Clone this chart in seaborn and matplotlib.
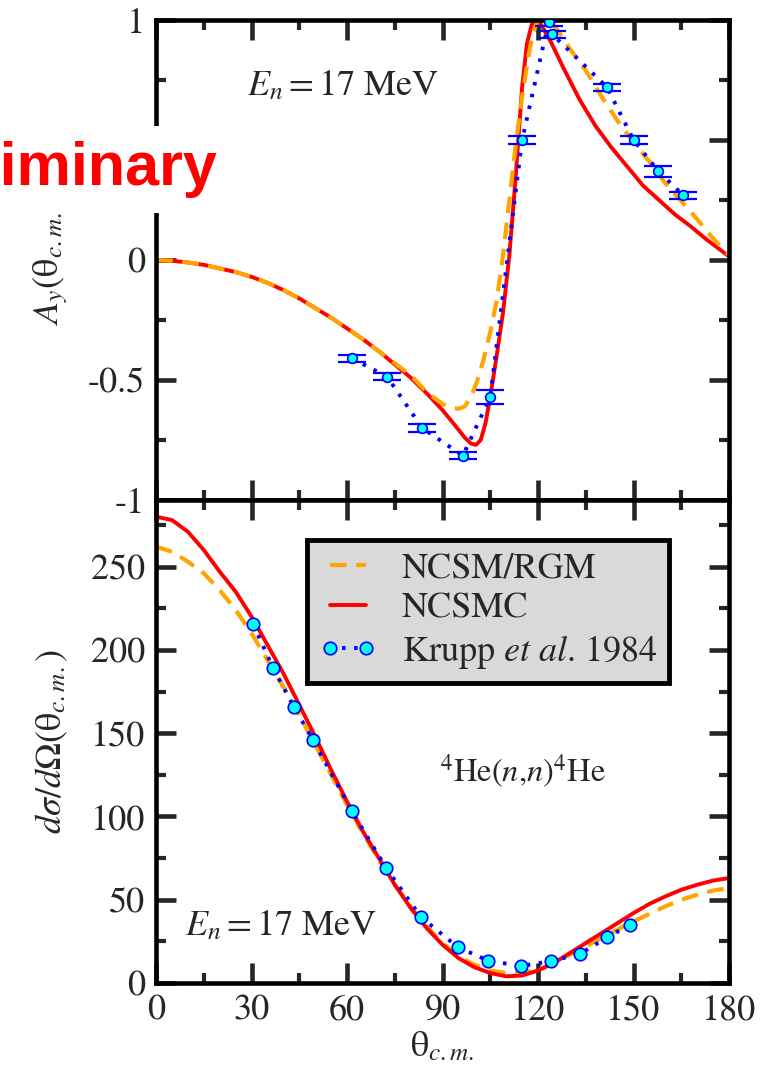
import matplotlib
matplotlib.use("Agg")
from matplotlib import pyplot as plt
from matplotlib.ticker import MultipleLocator
import seaborn as sns

# --- data ---
# top panel: analysing power A_y
ay_theta_ncsmc = [0, 5, 10, 15, 20, 25, 30, 35, 40, 45, 50, 55, 60, 65, 70, 75, 80, 85, 90, 94, 97, 99,
                  100.5, 102, 103.5, 105, 107, 109, 111, 113, 115, 116.5, 118, 119.5, 121, 124, 128, 133,
                  138, 143, 148, 153, 158, 163, 168, 173, 178, 180]
ay_ncsmc = [0.0, -0.003, -0.01, -0.02, -0.035, -0.05, -0.07, -0.095, -0.125, -0.16, -0.2, -0.24, -0.285,
            -0.33, -0.38, -0.435, -0.49, -0.555, -0.625, -0.69, -0.74, -0.765, -0.77, -0.75, -0.68, -0.57,
            -0.4, -0.22, 0.02, 0.35, 0.72, 0.9, 0.98, 1.0, 0.98, 0.91, 0.8, 0.67, 0.56, 0.47, 0.39, 0.31,
            0.25, 0.19, 0.14, 0.085, 0.035, 0.015]

ay_theta_rgm = [0, 5, 10, 15, 20, 25, 30, 35, 40, 45, 50, 55, 60, 65, 70, 75, 80, 85, 90, 93, 95, 97, 99,
                101, 103, 105, 107, 109, 111, 113, 115, 117, 118.5, 120, 122, 124, 126, 130, 135, 140, 145,
                150, 155, 160, 165, 170, 175, 180]
ay_rgm = [0.0, -0.003, -0.01, -0.02, -0.035, -0.05, -0.07, -0.095, -0.125, -0.16, -0.2, -0.24, -0.285,
          -0.33, -0.38, -0.43, -0.48, -0.55, -0.6, -0.615, -0.62, -0.61, -0.57, -0.5, -0.41, -0.3, -0.17,
          0.02, 0.25, 0.48, 0.68, 0.85, 0.95, 1.0, 1.0, 0.99, 0.96, 0.88, 0.79, 0.68, 0.58, 0.49, 0.41,
          0.32, 0.245, 0.17, 0.09, 0.02]

ay_theta_krupp = [61.6, 72.6, 83.6, 96.4, 105.0, 115.0, 123.3, 124.5, 141.7, 150.0, 157.8, 165.6]
ay_krupp = [-0.41, -0.486, -0.70, -0.815, -0.57, 0.50, 0.99, 0.94, 0.72, 0.50, 0.37, 0.27]
ay_krupp_err = [0.015, 0.015, 0.015, 0.015, 0.03, 0.015, 0.015, 0.015, 0.015, 0.015, 0.022, 0.015]

# bottom panel: differential cross section
xs_theta = [0, 5, 10, 15, 20, 25, 30, 35, 40, 45, 50, 55, 60, 65, 70, 75, 80, 85, 90, 95, 100, 105, 110,
            115, 120, 125, 130, 135, 140, 145, 150, 155, 160, 165, 170, 175, 180]
xs_ncsmc = [280, 278, 271, 260, 247, 235, 220, 203, 186, 167, 148, 128, 109, 91, 75, 59, 45, 33, 23, 15,
            9.5, 6, 4, 4.5, 7.5, 12, 18, 24, 30, 36, 42, 47.5, 52, 56, 59, 61.5, 63]
xs_rgm = [262, 259, 253, 246, 236, 224, 210, 194, 178, 161, 143, 125, 107, 90, 74, 59, 46, 34, 24, 16,
          11, 7.5, 6, 6, 8, 12, 17, 22, 27, 32, 37, 41.5, 46, 50, 53, 55.5, 57]

xs_theta_krupp = [30.5, 36.8, 43.4, 49.3, 61.6, 72.3, 83.2, 94.8, 104.4, 114.6, 124.0, 133.2, 141.8, 148.9]
xs_krupp = [215.5, 189, 165.5, 146, 103, 69, 39.6, 21.5, 13.4, 10.2, 13.1, 17.5, 27.5, 35]

x_ticks = [0, 30, 60, 90, 120, 150, 180]
ay_ticks = [-1, -0.5, 0, 0.5, 1]
ay_tick_labels = ['-1', '-0.5', '0', '0.5', '1']
xs_ticks = [0, 50, 100, 150, 200, 250]

# --- style ---
sns.set_style("ticks")
plt.rcParams['font.family'] = ['STIXGeneral', 'Liberation Serif', 'DejaVu Serif']
plt.rcParams['mathtext.fontset'] = 'stix'
plt.rcParams['axes.unicode_minus'] = False

FS = 26
ORANGE = '#FFA500'
RED = '#FF0000'
BLUE = '#0000FF'
CYAN = '#00FFFF'
dash = (0, (4, 2.3))
dot = (0, (0.9, 2.2))

fig = plt.figure(figsize=(7.69, 10.88), dpi=100)
ax1 = fig.add_axes([0.2029, 0.5404, 0.7451, 0.4412])
ax2 = fig.add_axes([0.2029, 0.0965, 0.7451, 0.4439])


def style_axes(ax):
    for s in ax.spines.values():
        s.set_linewidth(3.3)
        s.set_color('black')
    ax.xaxis.set_minor_locator(MultipleLocator(15))
    ax.tick_params(which='both', direction='in', top=True, right=True, labelsize=FS, pad=8)
    ax.tick_params(which='major', length=14.5, width=3.3)
    ax.tick_params(which='minor', length=7, width=3)


# top panel (orange dashes lie over the red line here)
sns.lineplot(x=ay_theta_ncsmc, y=ay_ncsmc, ax=ax1, color=RED, lw=2.8, sort=False, estimator=None)
sns.lineplot(x=ay_theta_rgm, y=ay_rgm, ax=ax1, color=ORANGE, lw=3, linestyle=dash, sort=False, estimator=None)
ax1.errorbar(ay_theta_krupp, ay_krupp, yerr=ay_krupp_err, fmt='none', ecolor=BLUE,
             elinewidth=1.5, capsize=10, capthick=1.6, zorder=4)
sns.lineplot(x=ay_theta_krupp, y=ay_krupp, ax=ax1, color=BLUE, lw=2.8, linestyle=dot, marker='o',
             markersize=7, markerfacecolor=CYAN, markeredgecolor=BLUE, markeredgewidth=1.2,
             sort=False, estimator=None, zorder=5)
ax1.set_xlim(0, 180)
ax1.set_ylim(-1, 1)
ax1.set_xticks(x_ticks)
ax1.set_xticklabels([])
ax1.set_yticks(ay_ticks, labels=ay_tick_labels)
ax1.yaxis.set_minor_locator(MultipleLocator(0.25))
style_axes(ax1)
ax1.set_xlabel('')
ax1.set_ylabel(r'$A_y$(θ$_{c.m.}$)', fontsize=FS)
ax1.yaxis.set_label_coords(-0.15, 0.5)
ax1.text(28.6, 0.6875, r'$E_n = 17$ MeV', fontsize=FS, va='baseline', ha='left')

# bottom panel
sns.lineplot(x=xs_theta, y=xs_rgm, ax=ax2, color=ORANGE, lw=3, linestyle=dash,
             sort=False, estimator=None, label='NCSM/RGM')
sns.lineplot(x=xs_theta, y=xs_ncsmc, ax=ax2, color=RED, lw=2.8, sort=False, estimator=None, label='NCSMC')
sns.lineplot(x=xs_theta_krupp, y=xs_krupp, ax=ax2, color=BLUE, lw=2.8, linestyle=dot, marker='o',
             markersize=9, markerfacecolor=CYAN, markeredgecolor=BLUE, markeredgewidth=1.2,
             sort=False, estimator=None, label=r'Krupp $et\ al$. 1984', zorder=5)
ax2.set_xlim(0, 180)
ax2.set_ylim(0, 290)
ax2.set_xticks(x_ticks)
ax2.set_yticks(xs_ticks)
ax2.yaxis.set_minor_locator(MultipleLocator(25))
style_axes(ax2)
ax2.set_xlabel(r'θ$_{c.m.}$', fontsize=FS, labelpad=2)
ax2.set_ylabel(r'$d\sigma/d\Omega$(θ$_{c.m.}$)', fontsize=FS)
ax2.yaxis.set_label_coords(-0.15, 0.5)
ax2.text(9.1, 28.9, r'$E_n = 17$ MeV', fontsize=FS, va='baseline', ha='left')
ax2.text(89.2, 121, r'$^4$He($n$,$n$)$^4$He', fontsize=FS * 0.9, va='baseline', ha='left')

leg = ax2.legend(loc='upper left', bbox_to_anchor=(0.2635, 0.917), borderaxespad=0, fontsize=FS,
                 handlelength=1.6, handletextpad=0.7, labelspacing=0.2, borderpad=0.33,
                 numpoints=2, fancybox=False, framealpha=1, facecolor='#d9d9d9', edgecolor='black')
leg.get_frame().set_linewidth(3.5)

fig.text(218 / 769, 1 - 185 / 1088, 'Preliminary', ha='right', va='baseline', color=RED,
         fontsize=44, fontweight='bold', family=['Liberation Sans', 'DejaVu Sans'],
         bbox=dict(facecolor='white', edgecolor='none', boxstyle='square,pad=0.25'), zorder=10)

fig.savefig('out.png', dpi=100)
